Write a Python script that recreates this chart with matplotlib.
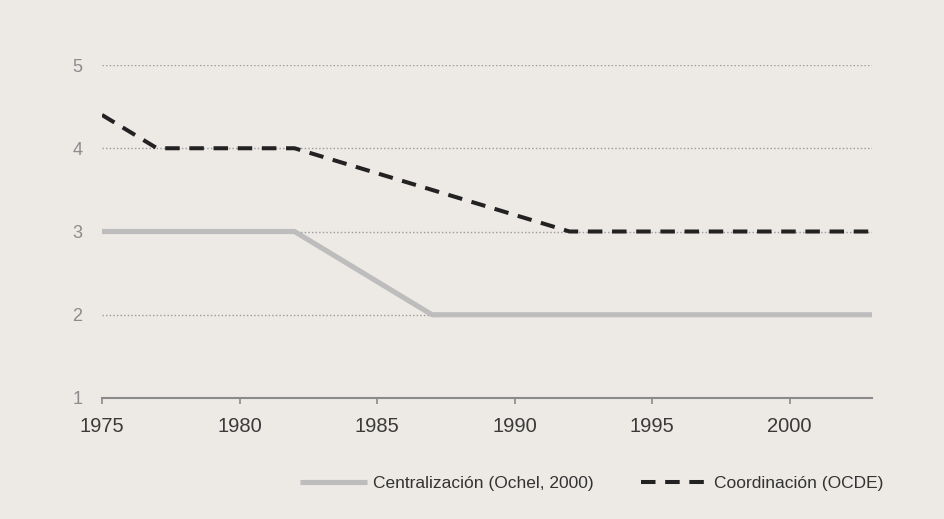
import matplotlib.pyplot as plt

years = list(range(1975, 2004))
centralizacion = [3, 3, 3, 3, 3, 3, 3, 3, 2.8, 2.6, 2.4, 2.2, 2.0, 2, 2, 2, 2, 2, 2, 2,
                  2, 2, 2, 2, 2, 2, 2, 2, 2]
coordinacion = [4.4, 4.2, 4.0, 4, 4, 4, 4, 4, 3.9, 3.8, 3.7, 3.6, 3.5, 3.4, 3.3, 3.2, 3.1, 3.0,
                3, 3, 3, 3, 3, 3, 3, 3, 3, 3, 3]
x_ticks = [1975, 1980, 1985, 1990, 1995, 2000]
y_ticks = [1, 2, 3, 4, 5]

plt.rcParams['font.family'] = ['Liberation Sans', 'DejaVu Sans']

bg = '#ede9e5'
fig = plt.figure(figsize=(9.44, 5.19), dpi=100, facecolor=bg)
ax = fig.add_axes([102 / 944, 1 - 398 / 519, 770 / 944, 333 / 519], facecolor=bg)

# dotted guides
for y in y_ticks[1:]:
    ax.axhline(y, color='#9a9a9a', linewidth=1.0, linestyle=(0, (1, 1.6)), zorder=1)

ax.plot(years, centralizacion, color='#bdbdbd', linewidth=3.7,
        solid_capstyle='butt', label='Centralización (Ochel, 2000)', zorder=2)
ax.plot(years, coordinacion, color='#222222', linewidth=2.9,
        dashes=(3.6, 2.4), label='Coordinación (OCDE)', zorder=3)

ax.set_xlim(1975, 2003)
ax.set_ylim(1, 5)
ax.set_xticks(x_ticks)
ax.set_yticks(y_ticks)
for s in ['top', 'right', 'left']:
    ax.spines[s].set_visible(False)
ax.spines['bottom'].set_color('#8a8a8a')
ax.spines['bottom'].set_linewidth(1.5)
ax.tick_params(axis='x', direction='out', length=4, width=1.2, color='#8a8a8a',
               labelsize=14.5, labelcolor='#3a3a3a', pad=10)
ax.tick_params(axis='y', length=0, labelsize=13, labelcolor='#8c8c8c', pad=14)

fig.legend(loc='center', bbox_to_anchor=(592 / 944, 1 - 483 / 519), ncol=2,
           frameon=False, fontsize=12.5, handlelength=3.85, handletextpad=0.35,
           columnspacing=2.75, labelcolor='#333333')

fig.savefig('out.png', dpi=100, facecolor=bg)
